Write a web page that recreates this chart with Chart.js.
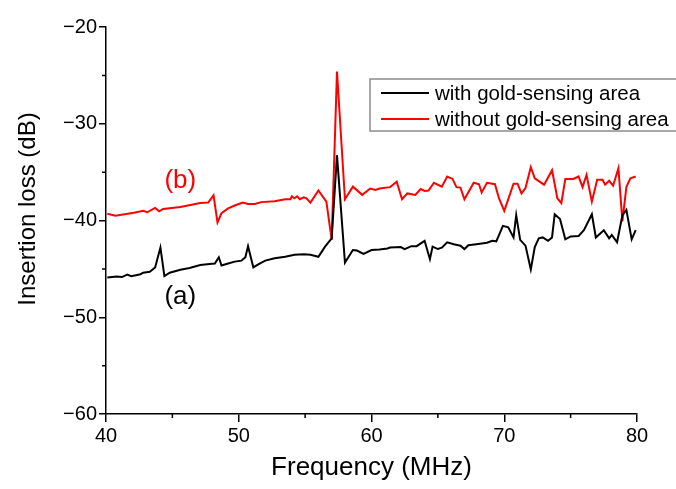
<!DOCTYPE html>
<html lang="en">
  <head>
    <meta charset="UTF-8">
    <title>Insertion loss</title>
    <script src="https://cdn.jsdelivr.net/npm/chart.js"></script>
    <style>
      body {
        margin: 0;
        background-color: #ffffff;
      }
    </style>
  </head>
  <body>
    <canvas id="lossChart" width="676" height="489"></canvas>

    <script>
      // (a) with gold-sensing area
      const freqA = [
        40.1, 40.8, 41.2, 41.6, 41.9, 42.6, 42.8, 43.3, 43.7, 44.1, 44.4, 44.8,
        45.6, 46.3, 47.1, 47.8, 48.2, 48.5, 48.7, 49.2, 49.7, 50.2, 50.5, 50.7,
        51.1, 51.5, 52.0, 52.7, 53.5, 54.2, 54.9, 55.4, 56.0, 56.5, 57.0, 57.4,
        58.0, 58.6, 58.9, 59.4, 60.0, 60.6, 61.2, 61.4, 62.2, 62.5, 63.0, 63.4,
        64.0, 64.4, 64.6, 65.0, 65.3, 65.7, 66.2, 66.7, 67.0, 67.3, 67.9, 68.7,
        69.1, 69.4, 69.9, 70.3, 70.7, 70.9, 71.2, 71.6, 72.0, 72.3, 72.6, 72.9,
        73.3, 73.6, 73.8, 74.2, 74.6, 75.0, 75.6, 76.0, 76.6, 76.9, 77.5, 77.9,
        78.1, 78.5, 78.9, 79.2, 79.6, 79.9,
      ];
      const lossA = [
        -45.9, -45.8, -45.85, -45.6, -45.75, -45.55, -45.4, -45.3, -44.85, -42.8, -45.75, -45.4,
        -45.1, -44.9, -44.6, -44.5, -44.45, -43.8, -44.65, -44.45, -44.25, -44.15, -43.8, -42.65,
        -44.85, -44.5, -44.15, -43.9, -43.75, -43.55, -43.5, -43.55, -43.75, -42.7, -41.85, -33.25,
        -44.35, -43.05, -43.1, -43.45, -43.05, -43.0, -42.9, -42.8, -42.75, -42.95, -42.65, -42.65,
        -42.1, -44.0, -42.7, -42.95, -42.8, -42.25, -42.45, -42.6, -42.95, -42.55, -42.45, -42.3,
        -42.1, -42.15, -40.55, -40.7, -41.75, -39.45, -42.0, -42.6, -45.05, -42.75, -41.85, -41.75,
        -42.1, -41.75, -39.35, -39.85, -41.95, -41.65, -41.6, -41.0, -39.35, -41.75, -41.0, -41.85,
        -41.5, -42.25, -39.45, -38.9, -41.95, -41.0,
      ];

      // (b) without gold-sensing area
      const freqB = [
        40.1, 40.7, 42.1, 42.8, 43.1, 43.7, 44.0, 44.3, 45.6, 47.1, 47.7, 48.1,
        48.4, 48.7, 49.2, 49.7, 50.3, 50.7, 51.2, 51.7, 52.7, 53.5, 53.9, 54.0,
        54.2, 54.4, 54.6, 54.9, 55.1, 55.4, 56.0, 56.6, 57.0, 57.4, 58.0, 58.6,
        59.3, 59.9, 60.3, 60.6, 61.4, 61.9, 62.3, 62.7, 63.3, 63.7, 64.0, 64.3,
        64.7, 65.3, 65.7, 66.1, 66.4, 66.7, 67.0, 67.7, 68.1, 68.3, 68.7, 69.3,
        69.6, 70.0, 70.7, 71.0, 71.3, 71.6, 72.0, 72.3, 73.0, 73.6, 74.0, 74.3,
        74.6, 75.2, 75.6, 75.9, 76.2, 76.6, 77.0, 77.4, 77.6, 77.9, 78.2, 78.6,
        78.9, 79.2, 79.5, 79.9,
      ];
      const lossB = [
        -39.3, -39.5, -39.2, -39.0, -39.15, -38.7, -39.05, -38.8, -38.6, -38.2, -38.15, -37.4,
        -40.2, -39.25, -38.75, -38.45, -38.15, -38.3, -38.3, -38.1, -38.0, -37.8, -37.8, -37.5,
        -37.7, -37.5, -37.8, -37.6, -37.7, -38.15, -36.9, -38.05, -42.0, -24.6, -37.8, -36.5,
        -37.35, -36.7, -36.85, -36.7, -36.55, -36.0, -37.8, -37.2, -37.35, -36.75, -36.95, -36.9,
        -36.1, -36.5, -35.45, -35.7, -36.55, -36.6, -37.8, -36.1, -36.25, -37.1, -36.1, -36.25,
        -37.7, -39.0, -36.2, -36.2, -37.2, -36.65, -34.5, -35.65, -36.3, -34.8, -37.7, -38.2,
        -35.7, -35.7, -35.45, -36.55, -35.3, -38.05, -35.8, -35.8, -36.3, -35.9, -36.4, -34.6,
        -40.1, -36.55, -35.65, -35.45,
      ];

      const xTicks = [40, 50, 60, 70, 80];
      const yTicks = [-60, -50, -40, -30, -20];
      const xMinor = [45, 55, 65, 75];
      const yMinor = [-55, -45, -35, -25];

      const FONT = "'Liberation Sans', Arial, sans-serif";

      function toPoints(xs, ys) {
        return xs.map((x, i) => ({ x: x, y: ys[i] }));
      }

      // short outward ticks between the labelled ones
      const minorTicks = {
        id: "minorTicks",
        afterDraw(chart) {
          const ctx = chart.ctx;
          const xs = chart.scales.x;
          const ys = chart.scales.y;
          const area = chart.chartArea;
          ctx.save();
          ctx.strokeStyle = "#000";
          ctx.lineWidth = 1.5;
          ctx.beginPath();
          xMinor.forEach((v) => {
            const px = xs.getPixelForValue(v);
            ctx.moveTo(px, area.bottom);
            ctx.lineTo(px, area.bottom + 4);
          });
          yMinor.forEach((v) => {
            const py = ys.getPixelForValue(v);
            ctx.moveTo(area.left, py);
            ctx.lineTo(area.left - 4, py);
          });
          ctx.stroke();
          ctx.restore();
        },
      };

      // y title drawn a little above the axis middle
      const yTitle = {
        id: "yTitle",
        afterDraw(chart) {
          const ctx = chart.ctx;
          ctx.save();
          ctx.translate(28, 209);
          ctx.rotate(-Math.PI / 2);
          ctx.font = "24px " + FONT;
          ctx.fillStyle = "#000";
          ctx.textAlign = "center";
          ctx.textBaseline = "middle";
          ctx.fillText("Insertion loss (dB)", 0, 0);
          ctx.restore();
        },
      };

      // boxed legend in the upper right and the (a)/(b) curve labels
      const legendBox = {
        id: "legendBox",
        afterDraw(chart) {
          const ctx = chart.ctx;
          const xs = chart.scales.x;
          const ys = chart.scales.y;
          ctx.save();
          ctx.strokeStyle = "#8c8c8c";
          ctx.lineWidth = 1.5;
          ctx.fillStyle = "#fff";
          ctx.fillRect(370, 79, 310, 52);
          ctx.strokeRect(370, 79, 310, 52);

          ctx.font = "20.5px " + FONT;
          ctx.textBaseline = "middle";
          chart.data.datasets.forEach((ds, i) => {
            const y = 93 + i * 26;
            ctx.strokeStyle = ds.borderColor;
            ctx.lineWidth = 2;
            ctx.beginPath();
            ctx.moveTo(381, y);
            ctx.lineTo(429, y);
            ctx.stroke();
            ctx.fillStyle = "#000";
            ctx.fillText(ds.label, 435, y + 1);
          });

          ctx.font = "26px " + FONT;
          ctx.textAlign = "center";
          ctx.fillStyle = "#ff0000";
          ctx.fillText("(b)", xs.getPixelForValue(45.6), ys.getPixelForValue(-35.9));
          ctx.fillStyle = "#000";
          ctx.fillText("(a)", xs.getPixelForValue(45.6), ys.getPixelForValue(-47.9));
          ctx.restore();
        },
      };

      new Chart(document.getElementById("lossChart"), {
        type: "line",
        data: {
          datasets: [
            {
              label: "with gold-sensing area",
              data: toPoints(freqA, lossA),
              borderColor: "#000000",
              borderWidth: 2,
              pointRadius: 0,
              tension: 0,
              fill: false,
            },
            {
              label: "without gold-sensing area",
              data: toPoints(freqB, lossB),
              borderColor: "#ff0000",
              borderWidth: 2,
              pointRadius: 0,
              tension: 0,
              fill: false,
            },
          ],
        },
        options: {
          responsive: false,
          animation: false,
          devicePixelRatio: 1,
          layout: { padding: { top: 27, right: 39, left: 0, bottom: 0 } },
          plugins: {
            legend: { display: false },
            tooltip: { enabled: false },
          },
          scales: {
            x: {
              type: "linear",
              min: 40,
              max: 80,
              afterFit: (s) => { s.height = 75; },
              afterBuildTicks: (s) => { s.ticks = xTicks.map((v) => ({ value: v })); },
              border: { color: "#000", width: 1.5 },
              grid: {
                drawOnChartArea: false,
                tickLength: 8,
                color: "#000",
                lineWidth: 1.5,
              },
              ticks: {
                padding: 2,
                color: "#000",
                font: { family: FONT, size: 20 },
                maxRotation: 0,
              },
              title: {
                display: true,
                text: "Frequency (MHz)",
                color: "#000",
                font: { family: FONT, size: 26 },
                padding: { top: 0, bottom: 6 },
              },
            },
            y: {
              min: -60,
              max: -20,
              afterFit: (s) => { s.width = 106; },
              afterBuildTicks: (s) => { s.ticks = yTicks.map((v) => ({ value: v })); },
              border: { color: "#000", width: 1.5 },
              grid: {
                drawOnChartArea: false,
                tickLength: 7,
                color: "#000",
                lineWidth: 1.5,
              },
              ticks: {
                padding: 2,
                color: "#000",
                font: { family: FONT, size: 20 },
                callback: (v) => String(v).replace("-", "\u2212"),
              },
            },
          },
        },
        plugins: [minorTicks, yTitle, legendBox],
      });
    </script>
  </body>
</html>
